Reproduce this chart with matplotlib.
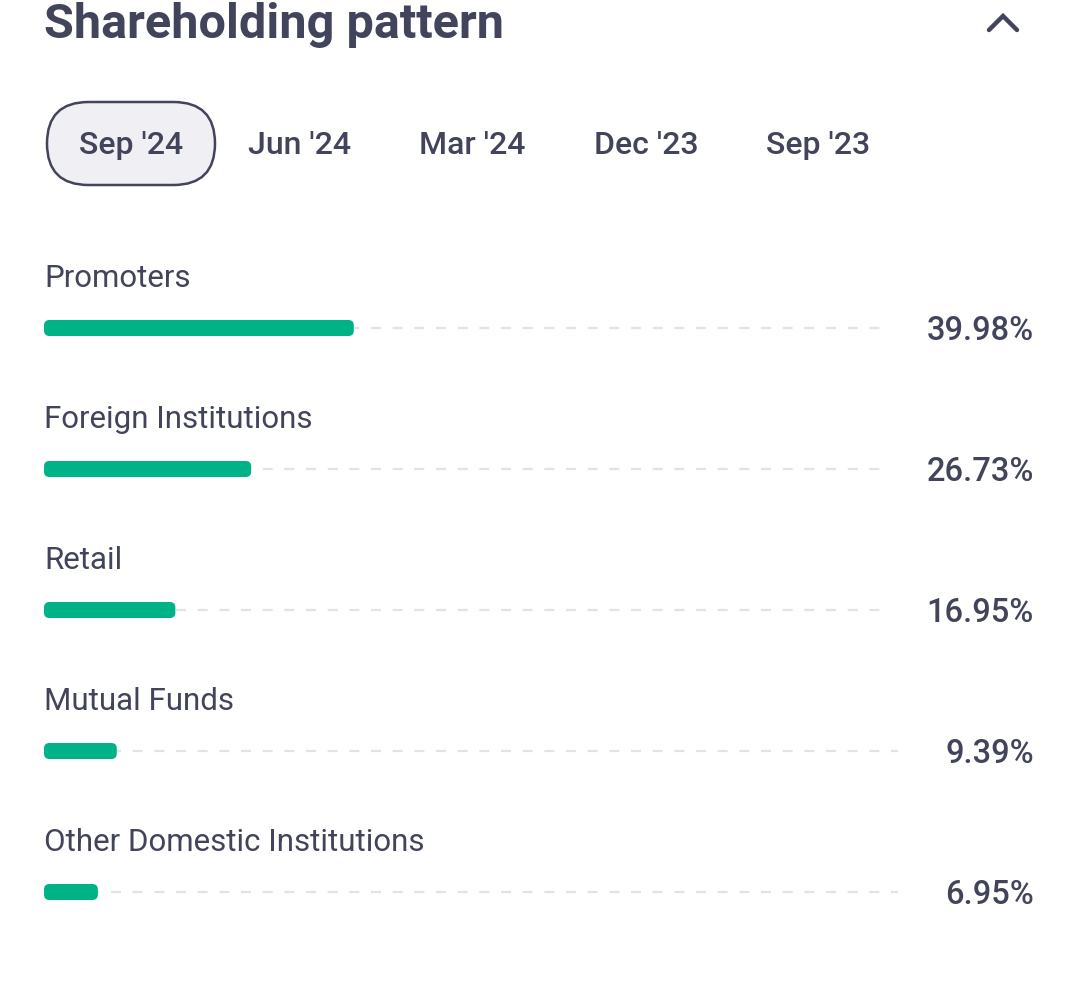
import matplotlib.pyplot as plt
from matplotlib.patches import FancyBboxPatch

plt.rcParams['font.family'] = ['Roboto', 'DejaVu Sans']
plt.rcParams['lines.scale_dashes'] = False

# data
title = "Shareholding pattern"
periods = ["Sep '24", "Jun '24", "Mar '24", "Dec '23", "Sep '23"]
selected = 0
categories = ["Promoters", "Foreign Institutions", "Retail",
              "Mutual Funds", "Other Domestic Institutions"]
shares = [39.98, 26.73, 16.95, 9.39, 6.95]

TEXT = "#41445a"
GREEN = "#00b386"
DASH = "#e3e3e6"

W, H = 1080, 987
fig = plt.figure(figsize=(W / 100, H / 100), dpi=100)
fig.patch.set_facecolor("white")

# overlay in pixel coords for header and tabs
ax = fig.add_axes([0, 0, 1, 1])
ax.set_xlim(0, W)
ax.set_ylim(H, 0)
ax.axis("off")

ax.text(44, 25, title, fontsize=35, fontweight="bold", color=TEXT,
        ha="left", va="center")
ax.plot([989, 1003, 1017], [31, 17, 31], color=TEXT, lw=3.2,
        solid_capstyle="round", solid_joinstyle="miter")

tab_x = [131, 300, 472, 646, 818]
for i, (p, x) in enumerate(zip(periods, tab_x)):
    if i == selected:
        pill = FancyBboxPatch((x - 84, 103), 168, 83,
                              boxstyle="round,pad=0,rounding_size=41.5",
                              fc="#f0f0f4", ec=TEXT, lw=1.8)
        ax.add_patch(pill)
    ax.text(x, 146, p, fontsize=23, fontweight="medium", color=TEXT,
            ha="center", va="center")

# bar area: rows are 141 px apart, x axis in percent
px_per_pct = 7.75
left_px, right_px = 44, 1034
top_px, bot_px = 258.5, 963.5
xmax = (right_px - left_px) / px_per_pct
axb = fig.add_axes([left_px / W, 1 - bot_px / H,
                    (right_px - left_px) / W, (bot_px - top_px) / H])
axb.set_xlim(0, xmax)
axb.set_ylim(len(categories) - 0.5, -0.5)
axb.axis("off")

bar_h = 16 / 141
aspect = px_per_pct / 141
fig.canvas.draw()
renderer = fig.canvas.get_renderer()
inv = axb.transData.inverted()

for i, (cat, v) in enumerate(zip(categories, shares)):
    axb.text(0.05, i - 50 / 141, cat, fontsize=22.5, color=TEXT,
             ha="left", va="center")
    t = axb.text(xmax, i + 2 / 141, f"{v:.2f}%", fontsize=23.5,
                 fontweight="medium", color=TEXT, ha="right", va="center")
    bb = t.get_window_extent(renderer=renderer)
    x_end = inv.transform((bb.x0 - 47, 0))[0]
    axb.plot([0.3, x_end], [i, i], color=DASH, lw=1.6,
             linestyle=(0, (7.2, 8.4)), zorder=1)
    bar = FancyBboxPatch((0, i - bar_h / 2), v, bar_h,
                         boxstyle="round,pad=0,rounding_size=0.7",
                         mutation_aspect=aspect, fc=GREEN, ec="none",
                         zorder=2)
    axb.add_patch(bar)

fig.savefig("out.png", dpi=100, facecolor="white")
